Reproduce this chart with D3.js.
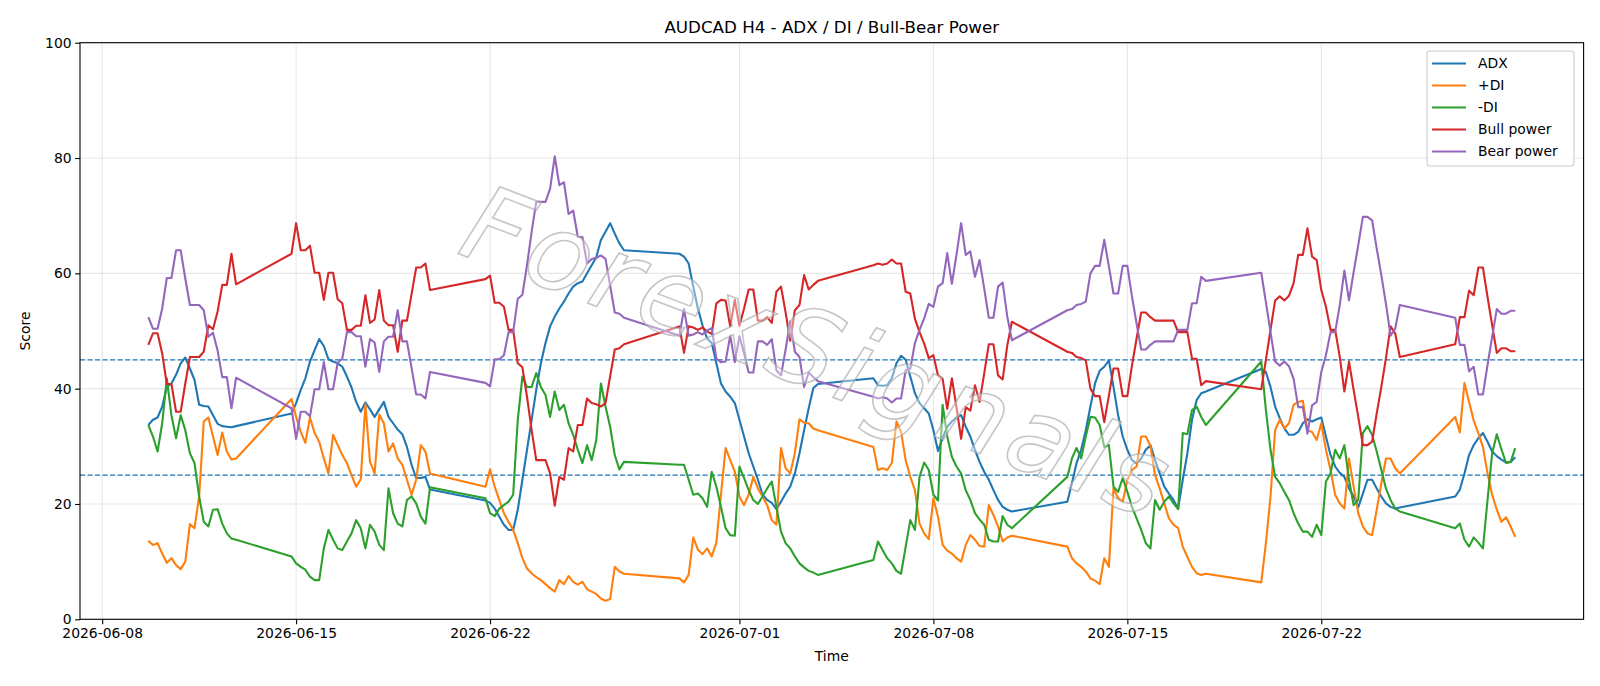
<!DOCTYPE html>
<html>
<head>
<meta charset="utf-8">
<script src="https://cdn.jsdelivr.net/npm/d3@7"></script>
<style>
  body { margin: 0; background: #fff; }
  text { font-family: "DejaVu Sans", sans-serif; }
</style>
</head>
<body>
<div id="chart"></div>
<script>
// H4 bars, one block per trading week (start bar, number of bars)
var weekStarts = ["2026-06-09 16:00", "2026-06-14 20:00", "2026-06-21 20:00", "2026-06-28 20:00",
                  "2026-07-05 20:00", "2026-07-12 20:00", "2026-07-19 20:00", "2026-07-26 20:00"];
var barsPerWeek = [20, 31, 31, 31, 31, 31, 31, 14];

var adx = [
  33.7, 34.6, 35.0, 36.9, 40.3, 40.9, 42.4, 44.4, 45.4, 43.5, 41.5, 37.2, 37.0, 36.9, 35.4, 33.9, 33.5, 33.4, 33.3, 33.5,
  35.7, 37.5, 39.8, 41.8, 44.7, 46.7, 48.6, 47.4, 45.1, 44.7, 44.4, 43.8, 42.1, 40.2, 37.7, 36.0, 37.6, 36.4, 35.1, 36.4, 37.7, 35.1, 34.0, 32.9, 32.1, 29.9, 26.8, 24.5, 24.5, 24.7, 22.5,
  20.6, 20.2, 19.2, 17.8, 16.4, 15.5, 15.5, 19.0, 24.2, 29.4, 34.6, 39.8, 44.4, 47.9, 50.8, 52.5, 53.9, 55.1, 56.5, 57.7, 58.3, 58.6, 60.0, 61.4, 62.8, 65.8, 67.2, 68.7, 66.9, 65.2, 64.0,
  63.4, 62.9, 61.7, 57.7, 53.9, 51.0, 48.7, 47.9, 44.4, 40.9, 39.5, 38.6, 37.5, 34.6, 31.7, 28.8, 26.5, 24.2, 21.6, 20.7, 20.2, 19.1, 20.4, 21.8, 23.0, 25.3, 28.8, 32.8, 36.6, 40.1, 40.8,
  41.8, 40.6, 40.5, 40.6, 41.8, 44.4, 45.7, 45.0, 42.1, 39.2, 37.5, 36.6, 35.7, 32.8, 29.2, 31.4, 33.4, 34.3, 35.0, 35.4, 33.4, 31.7, 29.4, 27.3, 25.6, 24.2, 22.4, 20.7, 19.5, 19.0, 18.7,
  20.4, 23.6, 27.1, 29.4, 32.8, 36.9, 40.9, 43.1, 43.8, 44.9, 40.3, 35.4, 31.7, 29.4, 27.6, 27.1, 27.9, 29.4, 30.2, 27.6, 25.3, 23.0, 21.8, 20.7, 19.2, 24.2, 28.8, 34.6, 38.0, 39.2, 39.5,
  43.4, 42.9, 40.3, 36.9, 34.9, 33.1, 32.0, 32.0, 32.5, 34.0, 34.7, 34.3, 34.7, 35.0, 31.7, 28.5, 26.5, 25.4, 24.7, 22.7, 21.3, 19.4, 21.8, 24.2, 24.2, 22.7, 21.3, 20.1, 19.5, 19.2, 19.4,
  21.3, 22.5, 25.3, 28.5, 30.2, 31.4, 32.3, 30.8, 29.1, 28.3, 27.7, 27.2, 27.3, 28.1
];

var plusDI = [
  13.6, 12.9, 13.2, 11.4, 9.8, 10.6, 9.4, 8.7, 10.0, 16.5, 15.8, 21.3, 34.3, 35.0, 31.7, 28.5, 32.4, 29.1, 27.7, 27.9,
  38.2, 35.1, 32.5, 30.6, 35.0, 32.3, 30.8, 27.9, 25.3, 32.0, 30.2, 28.5, 27.1, 25.0, 23.0, 24.3, 37.3, 27.3, 25.3, 35.5, 34.0, 29.1, 30.5, 27.9, 26.8, 24.2, 21.6, 24.2, 30.2, 29.1, 25.3,
  23.0, 26.0, 23.0, 20.7, 18.4, 16.9, 15.5, 13.2, 10.6, 8.8, 8.0, 7.3, 6.8, 6.1, 5.4, 4.8, 6.8, 6.1, 7.5, 6.5, 6.0, 6.5, 5.2, 4.8, 4.4, 3.6, 3.2, 3.5, 9.1, 8.3, 7.9,
  7.1, 6.4, 7.7, 14.2, 12.1, 11.3, 12.3, 10.9, 13.3, 21.6, 29.7, 27.6, 25.6, 21.3, 19.8, 21.6, 24.7, 22.7, 21.3, 19.8, 17.2, 16.4, 29.7, 26.2, 25.3, 28.8, 34.7, 34.1, 34.0, 33.1, 32.8,
  29.9, 25.9, 26.2, 25.9, 27.1, 34.3, 32.5, 27.6, 24.7, 22.4, 16.6, 14.9, 13.9, 21.0, 17.8, 12.9, 11.9, 11.4, 10.6, 10.0, 12.9, 14.6, 13.8, 12.7, 12.6, 19.8, 18.1, 16.1, 13.5, 14.2, 14.5,
  12.6, 10.6, 9.7, 9.1, 8.3, 7.1, 6.7, 6.1, 10.6, 9.1, 22.7, 21.0, 20.4, 24.2, 25.9, 26.5, 31.7, 31.7, 30.1, 25.0, 22.7, 20.1, 17.5, 16.4, 15.8, 12.6, 10.8, 9.1, 8.0, 7.7, 7.9,
  6.4, 13.2, 21.3, 32.8, 34.6, 33.1, 34.0, 37.2, 37.7, 37.9, 32.8, 32.5, 31.1, 34.0, 29.4, 25.9, 21.6, 20.1, 19.2, 27.9, 23.0, 18.4, 16.1, 14.9, 14.6, 19.0, 23.6, 27.9, 27.9, 26.2, 25.3,
  35.1, 32.4, 41.0, 37.7, 34.5, 32.3, 29.9, 25.3, 21.6, 19.0, 16.9, 17.7, 16.1, 14.3
];

var minusDI = [
  33.7, 31.7, 29.1, 34.0, 41.8, 35.4, 31.4, 35.4, 32.8, 28.8, 27.1, 21.3, 16.9, 16.1, 19.0, 19.1, 16.6, 14.9, 14.0, 13.8,
  10.9, 9.7, 9.1, 8.6, 7.4, 6.8, 6.8, 12.3, 15.5, 13.8, 12.3, 12.0, 13.5, 14.9, 17.2, 15.8, 12.3, 16.4, 15.2, 12.9, 12.0, 22.7, 18.4, 16.6, 16.1, 20.7, 21.3, 20.1, 17.8, 16.6, 22.9,
  21.0, 18.4, 17.9, 19.2, 19.8, 20.4, 21.6, 34.6, 42.1, 40.3, 40.3, 42.7, 40.3, 38.9, 35.1, 39.5, 36.3, 37.2, 34.0, 32.0, 29.4, 27.1, 30.2, 27.6, 31.1, 40.9, 36.9, 33.4, 28.5, 26.0, 27.3,
  26.8, 26.8, 24.2, 21.6, 21.8, 21.0, 19.5, 25.6, 23.0, 19.5, 15.8, 14.6, 14.5, 26.5, 24.5, 22.4, 20.7, 20.0, 21.3, 22.7, 23.9, 19.5, 15.2, 13.2, 12.3, 10.9, 9.7, 9.0, 8.4, 8.1, 7.7,
  10.3, 13.5, 12.0, 10.6, 9.7, 8.4, 7.9, 12.6, 17.2, 15.5, 24.7, 27.2, 25.9, 21.6, 20.6, 37.2, 31.7, 28.2, 26.5, 25.3, 22.4, 20.7, 18.4, 17.3, 16.4, 13.8, 13.5, 13.5, 17.9, 16.4, 15.8,
  24.7, 27.9, 29.7, 27.9, 31.7, 35.1, 35.0, 33.7, 29.9, 30.2, 23.0, 22.1, 24.5, 22.1, 19.5, 17.5, 15.5, 13.2, 12.3, 20.7, 19.0, 20.4, 21.3, 20.1, 19.1, 32.3, 32.1, 36.3, 36.9, 35.1, 33.7,
  44.7, 36.3, 29.4, 24.7, 23.6, 22.1, 20.7, 18.4, 16.6, 15.2, 15.2, 14.3, 16.4, 14.6, 23.9, 25.3, 29.4, 27.9, 30.2, 24.2, 19.8, 20.7, 32.3, 33.5, 32.0, 29.1, 25.9, 22.7, 20.7, 19.2, 18.7,
  15.8, 16.6, 13.8, 12.6, 14.2, 13.3, 12.3, 20.7, 28.8, 32.1, 29.5, 27.1, 27.3, 29.7
];

var bullPower = [
  47.6, 49.6, 49.6, 46.1, 40.8, 40.8, 36.0, 36.0, 40.9, 45.5, 45.5, 45.5, 46.4, 51.0, 50.3, 53.4, 58.0, 58.0, 63.4, 58.1,
  63.4, 68.7, 64.0, 64.0, 64.8, 60.1, 60.1, 55.4, 60.1, 60.1, 55.5, 54.8, 50.2, 50.2, 50.9, 50.9, 56.2, 51.4, 52.0, 57.1, 51.8, 51.0, 51.0, 46.4, 51.8, 51.8, 56.4, 61.0, 61.0, 61.7, 57.1,
  59.0, 59.6, 54.9, 54.9, 54.2, 50.2, 50.2, 44.4, 43.7, 38.6, 32.8, 27.6, 27.6, 27.6, 25.3, 19.7, 24.7, 24.2, 29.7, 29.1, 33.7, 33.7, 38.3, 37.5, 37.3, 36.9, 37.5, 42.1, 46.8, 47.0, 47.7,
  50.8, 46.2, 50.8, 50.6, 50.2, 50.6, 49.9, 49.5, 54.8, 55.4, 55.3, 50.8, 55.4, 50.9, 53.9, 57.2, 57.2, 51.8, 51.8, 52.4, 51.4, 56.8, 57.7, 53.2, 48.3, 53.6, 54.5, 59.7, 57.2, 58.0, 58.7,
  61.4, 61.7, 61.5, 61.7, 62.4, 61.7, 61.7, 56.8, 56.5, 52.1, 49.8, 47.8, 45.3, 45.8, 42.3, 41.7, 36.5, 41.8, 36.8, 31.3, 36.8, 36.2, 40.6, 37.7, 42.6, 47.7, 47.7, 42.3, 41.6, 47.5, 51.6,
  46.4, 46.2, 45.5, 45.3, 44.9, 40.0, 38.7, 38.7, 34.2, 38.8, 43.5, 43.5, 38.7, 38.7, 44.0, 48.7, 53.2, 53.2, 52.4, 51.8, 51.8, 51.8, 51.8, 51.8, 49.8, 49.8, 49.8, 45.2, 45.2, 40.6, 41.3,
  39.9, 45.0, 50.2, 55.3, 56.0, 55.3, 56.1, 58.3, 63.2, 63.2, 67.8, 62.9, 62.3, 57.1, 54.2, 50.2, 50.2, 45.5, 39.5, 44.7, 39.8, 35.1, 30.2, 30.2, 30.8, 35.7, 40.3, 45.3, 50.8, 49.6, 45.5,
  47.7, 52.4, 52.4, 57.0, 56.2, 61.0, 61.0, 55.9, 51.0, 46.2, 47.0, 47.0, 46.5, 46.5
];

var bearPower = [
  52.4, 50.4, 50.4, 53.9, 59.2, 59.2, 64.0, 64.0, 59.1, 54.5, 54.5, 54.5, 53.6, 49.0, 49.7, 46.6, 42.0, 42.0, 36.6, 41.9,
  36.6, 31.3, 36.0, 36.0, 35.2, 39.9, 39.9, 44.6, 39.9, 39.9, 44.5, 45.2, 49.8, 49.8, 49.1, 49.1, 43.8, 48.6, 48.0, 42.9, 48.2, 49.0, 49.0, 53.6, 48.2, 48.2, 43.6, 39.0, 39.0, 38.3, 42.9,
  41.0, 40.4, 45.1, 45.1, 45.8, 49.8, 49.8, 55.6, 56.3, 61.4, 67.2, 72.4, 72.4, 72.4, 74.7, 80.3, 75.3, 75.8, 70.3, 70.9, 66.3, 66.3, 61.7, 62.5, 62.7, 63.1, 62.5, 57.9, 53.2, 53.0, 52.3,
  49.2, 53.8, 49.2, 49.4, 49.8, 49.4, 50.1, 50.5, 45.2, 44.6, 44.7, 49.2, 44.6, 49.1, 46.1, 42.8, 42.8, 48.2, 48.2, 47.6, 48.6, 43.2, 42.3, 46.8, 51.7, 46.4, 45.5, 40.3, 42.8, 42.0, 41.3,
  38.6, 38.3, 38.5, 38.3, 37.6, 38.3, 38.3, 43.2, 43.5, 47.9, 50.2, 52.2, 54.7, 54.2, 57.7, 58.3, 63.5, 58.2, 63.2, 68.7, 63.2, 63.8, 59.4, 62.3, 57.4, 52.3, 52.3, 57.7, 58.4, 52.5, 48.4,
  53.6, 53.8, 54.5, 54.7, 55.1, 60.0, 61.3, 61.3, 65.8, 61.2, 56.5, 56.5, 61.3, 61.3, 56.0, 51.3, 46.8, 46.8, 47.6, 48.2, 48.2, 48.2, 48.2, 48.2, 50.2, 50.2, 50.2, 54.8, 54.8, 59.4, 58.7,
  60.1, 55.0, 49.8, 44.7, 44.0, 44.7, 43.9, 41.7, 36.8, 36.8, 32.2, 37.1, 37.7, 42.9, 45.8, 49.8, 49.8, 54.5, 60.5, 55.3, 60.2, 64.9, 69.8, 69.8, 69.2, 64.3, 59.7, 54.7, 49.2, 50.4, 54.5,
  52.3, 47.6, 47.6, 43.0, 43.8, 39.0, 39.0, 44.1, 49.0, 53.8, 53.0, 53.0, 53.5, 53.5
];

var seriesNames = ["ADX", "+DI", "-DI", "Bull power", "Bear power"];
var seriesColors = ["#1f77b4", "#ff7f0e", "#2ca02c", "#d62728", "#9467bd"];
var yTicks = [0, 20, 40, 60, 80, 100];
var xTickLabels = ["2026-06-08", "2026-06-15", "2026-06-22", "2026-07-01", "2026-07-08", "2026-07-15", "2026-07-22"];
var refLevels = [45, 25];

var svgWidth = 1600;
var svgHeight = 686;

var margin = {
  top: 42.7,
  right: 16.4,
  bottom: 66.7,
  left: 80
};

var width = svgWidth - margin.left - margin.right;
var height = svgHeight - margin.top - margin.bottom;

var svg = d3.select("#chart")
  .append("svg")
  .attr("width", svgWidth)
  .attr("height", svgHeight);

var chartGroup = svg.append("g")
  .attr("transform", `translate(${margin.left}, ${margin.top})`);

// expand the week blocks into bar times
var parseTime = d3.utcParse("%Y-%m-%d %H:%M");
var times = [];
weekStarts.forEach(function(s, w) {
  var t0 = parseTime(s).getTime();
  for (var k = 0; k < barsPerWeek[w]; k++) {
    times.push(new Date(t0 + k * 4 * 3600 * 1000));
  }
});

var series = [adx, plusDI, minusDI, bullPower, bearPower].map(function(vals, i) {
  return {
    name: seriesNames[i],
    color: seriesColors[i],
    points: vals.map(function(v, k) { return {t: times[k], v: v}; })
  };
});

// matplotlib style 5% x margins
var tExtent = d3.extent(times);
var pad = (tExtent[1] - tExtent[0]) * 0.05;
var xScale = d3.scaleUtc()
  .domain([new Date(+tExtent[0] - pad), new Date(+tExtent[1] + pad)])
  .range([0, width]);

var yScale = d3.scaleLinear()
  .domain([0, 100])
  .range([height, 0]);

var xTicks = xTickLabels.map(function(s) { return d3.utcParse("%Y-%m-%d")(s); });

// grid
chartGroup.append("g")
  .selectAll("line.vgrid")
  .data(xTicks)
  .enter()
  .append("line")
  .attr("x1", d => xScale(d))
  .attr("x2", d => xScale(d))
  .attr("y1", 0)
  .attr("y2", height)
  .attr("stroke", "#b0b0b0")
  .attr("stroke-opacity", 0.3)
  .attr("stroke-width", 1.1);

chartGroup.append("g")
  .selectAll("line.hgrid")
  .data(yTicks)
  .enter()
  .append("line")
  .attr("x1", 0)
  .attr("x2", width)
  .attr("y1", d => yScale(d))
  .attr("y2", d => yScale(d))
  .attr("stroke", "#b0b0b0")
  .attr("stroke-opacity", 0.3)
  .attr("stroke-width", 1.1);

// threshold lines
chartGroup.selectAll("line.ref")
  .data(refLevels)
  .enter()
  .append("line")
  .attr("x1", 0)
  .attr("x2", width)
  .attr("y1", d => yScale(d))
  .attr("y2", d => yScale(d))
  .attr("stroke", "#1f77b4")
  .attr("stroke-width", 1.4)
  .attr("stroke-dasharray", "5.2,2.3");

var line = d3.line()
  .x(d => xScale(d.t))
  .y(d => yScale(d.v));

chartGroup.selectAll("path.series")
  .data(series)
  .enter()
  .append("path")
  .attr("d", d => line(d.points))
  .attr("fill", "none")
  .attr("stroke", d => d.color)
  .attr("stroke-width", 2.1)
  .attr("stroke-linejoin", "round");

// watermark
chartGroup.append("text")
  .attr("transform", `translate(${816 - margin.left}, ${360 - margin.top}) rotate(21)`)
  .attr("text-anchor", "middle")
  .attr("dominant-baseline", "middle")
  .style("font-size", "106px")
  .style("font-style", "italic")
  .style("letter-spacing", "6px")
  .attr("fill", "#ffffff")
  .attr("fill-opacity", 0.4)
  .attr("stroke", "#a8a8a8")
  .attr("stroke-opacity", 0.65)
  .attr("stroke-width", 1.6)
  .text("ForexSignals");

// axes
var bottomAxis = d3.axisBottom(xScale)
  .tickValues(xTicks)
  .tickFormat(d3.utcFormat("%Y-%m-%d"))
  .tickSize(4.9)
  .tickPadding(3.5);
var leftAxis = d3.axisLeft(yScale)
  .tickValues(yTicks)
  .tickSize(4.9)
  .tickPadding(3.5);

var xAxisG = chartGroup.append("g")
  .attr("transform", `translate(0, ${height})`)
  .style("font-size", "13.9px")
  .call(bottomAxis);
var yAxisG = chartGroup.append("g")
  .style("font-size", "13.9px")
  .call(leftAxis);

[xAxisG, yAxisG].forEach(function(g) {
  g.select(".domain").remove();
  g.selectAll(".tick line").attr("stroke", "#000").attr("stroke-width", 1.1);
  g.selectAll(".tick text").attr("fill", "#000").style("font-family", "DejaVu Sans");
});

// spines
chartGroup.append("rect")
  .attr("width", width)
  .attr("height", height)
  .attr("fill", "none")
  .attr("stroke", "#000")
  .attr("stroke-width", 1.1);

// title and labels
svg.append("text")
  .attr("x", margin.left + width / 2)
  .attr("y", 33)
  .attr("text-anchor", "middle")
  .style("font-size", "16.7px")
  .text("AUDCAD H4 - ADX / DI / Bull-Bear Power");

svg.append("text")
  .attr("x", margin.left + width / 2)
  .attr("y", 661)
  .attr("text-anchor", "middle")
  .style("font-size", "13.9px")
  .text("Time");

svg.append("text")
  .attr("transform", `translate(30, ${margin.top + height / 2}) rotate(-90)`)
  .attr("text-anchor", "middle")
  .style("font-size", "13.9px")
  .text("Score");

// legend
var legendG = svg.append("g")
  .attr("transform", "translate(1427, 51)");

legendG.append("rect")
  .attr("width", 147)
  .attr("height", 115)
  .attr("rx", 3)
  .attr("fill", "#fff")
  .attr("fill-opacity", 0.8)
  .attr("stroke", "#cccccc")
  .attr("stroke-width", 1.1);

var legendItems = legendG.selectAll("g.item")
  .data(series)
  .enter()
  .append("g")
  .attr("transform", (d, i) => `translate(0, ${12.5 + i * 22})`);

legendItems.append("line")
  .attr("x1", 5)
  .attr("x2", 39)
  .attr("stroke", d => d.color)
  .attr("stroke-width", 2.1);

legendItems.append("text")
  .attr("x", 51)
  .attr("dy", "0.35em")
  .style("font-size", "13.9px")
  .text(d => d.name);
</script>
</body>
</html>
